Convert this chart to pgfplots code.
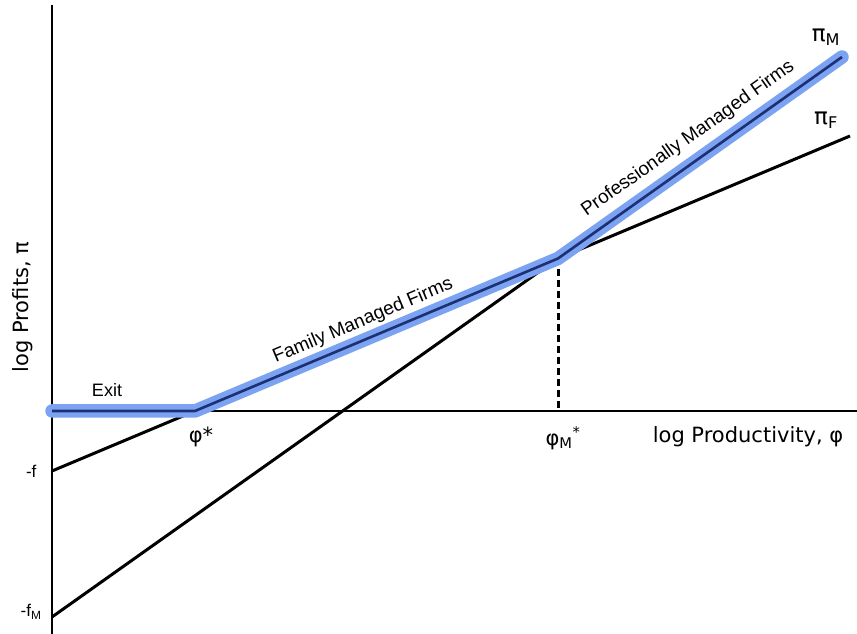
\documentclass[border=0pt]{standalone}
\usepackage{fontspec}
\setmainfont{Liberation Sans}
\newfontfamily\dv{DejaVu Sans}
\usepackage{pgfplots}
\pgfplotsset{compat=1.18}
\definecolor{hl}{RGB}{124,163,242}
\definecolor{core}{RGB}{28,48,115}
\begin{document}
\begin{tikzpicture}
\begin{axis}[
  scale only axis, width=857pt, height=634pt,
  xmin=0, xmax=857, ymin=0, ymax=634,
  hide axis, clip=false,
]
% axes
\addplot[black, line width=1.6pt] coordinates {(52,629) (52,0)};
\addplot[black, line width=1.6pt] coordinates {(52,223) (857,223)};
% profit lines
\addplot[black, line width=3pt] coordinates {(52,163) (850,498)};
\addplot[black, line width=3pt] coordinates {(52,17) (842,577)};
% cutoff for professional management
\addplot[black, line width=3pt, dash pattern=on 7pt off 4pt] coordinates {(558,375.5) (558,223)};
% upper envelope
\addplot[hl, line width=13.5pt, line cap=round, line join=round]
  coordinates {(52,223) (195,223) (558,375.5) (842,577)};
\addplot[core, line width=2.6pt, line join=round]
  coordinates {(52,223) (195,223) (558,375.5) (842,577)};
% labels
\node[rotate=90, font=\dv\fontsize{21}{25}\selectfont] at (axis cs:23,327) {log Profits, π};
\node[font=\dv\fontsize{21}{25}\selectfont] at (axis cs:748,197) {log Productivity, φ};
\node[font=\dv\fontsize{21}{25}\selectfont] at (axis cs:201,197) {φ*};
\node[font=\dv\fontsize{21}{25}\selectfont] at (axis cs:563,196) {φ\textsubscript{M}\textsuperscript{*}};
\node[font=\dv\fontsize{23}{27}\selectfont] at (axis cs:826,597) {π\textsubscript{M}};
\node[font=\dv\fontsize{23}{27}\selectfont] at (axis cs:826,514) {π\textsubscript{F}};
\node[font=\fontsize{17}{20}\selectfont, anchor=east] at (axis cs:40,163) {-f};
\node[font=\fontsize{17}{20}\selectfont, anchor=east] at (axis cs:45,22) {-f\textsubscript{M}};
\node[font=\fontsize{18}{21}\selectfont] at (axis cs:107,244) {Exit};
\node[font=\fontsize{19}{22}\selectfont, rotate=22.8] at (axis cs:363,313) {Family Managed Firms};
\node[font=\fontsize{19}{22}\selectfont, rotate=35.3] at (axis cs:688,495) {Professionally Managed Firms};
\end{axis}
\pgfresetboundingbox
\path (0,0) rectangle (857pt,634pt);
\end{tikzpicture}
\end{document}
